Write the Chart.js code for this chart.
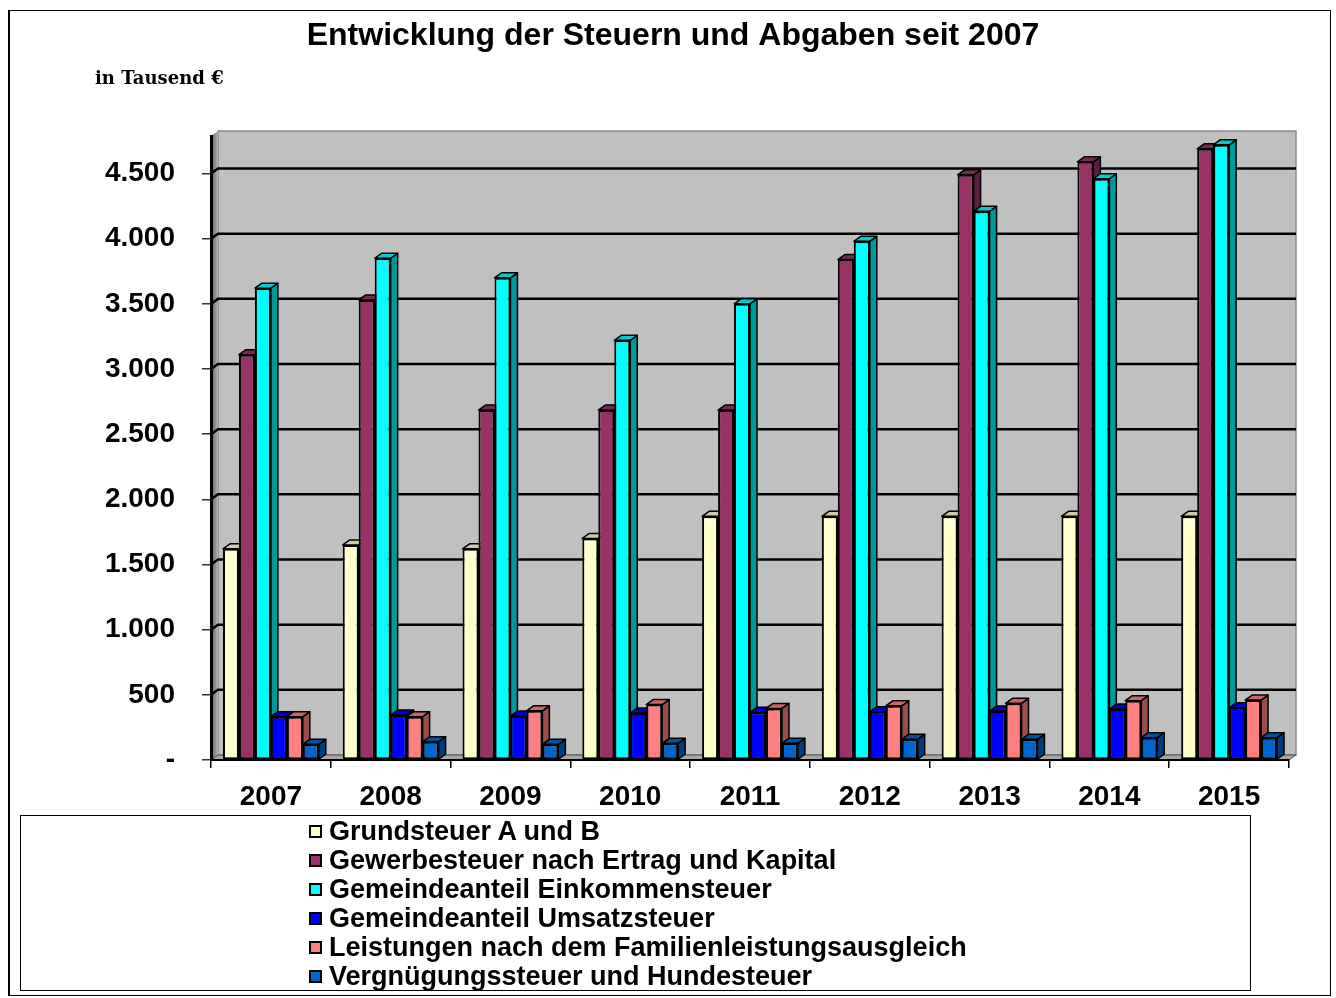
<!DOCTYPE html>
<html lang="de">
<head>
<meta charset="utf-8">
<title>Entwicklung der Steuern und Abgaben seit 2007</title>
<script src="https://cdn.jsdelivr.net/npm/chart.js@4.4.1/dist/chart.umd.min.js"></script>
<style>
  body { margin: 0; background: #fff; }
  #wrap { position: relative; width: 1336px; height: 998px; overflow: hidden; }
  #frame { position: absolute; left: 8px; top: 10px; width: 1320px; height: 984px;
           border: 1px solid #000; border-left-width: 2px; }
  #chart { position: absolute; left: 0; top: 0; }
  #unit { position: absolute; left: 95px; top: 67px; font: bold 18px "DejaVu Serif", serif; line-height: 22px; }
  #legend { position: absolute; left: 20px; top: 815px; width: 1229px; height: 174px; border: 1px solid #000; }
  #legend ul { list-style: none; margin: 0; padding: 0; position: absolute; left: 288px; top: 1px; }
  #legend li { display: flex; align-items: center; height: 29px;
               font: bold 27px "Liberation Sans", Arial, sans-serif; white-space: nowrap; }
  #legend .box { width: 13px; height: 13px; box-sizing: border-box; border: 2px solid #000; margin-right: 7px; }
</style>
</head>
<body>
<div id="wrap">
  <div id="frame"></div>
  <canvas id="chart" width="1336" height="998"></canvas>
  <div id="unit">in Tausend €</div>
  <div id="legend"><ul id="legendList"></ul></div>
</div>
<script>
const years = ['2007', '2008', '2009', '2010', '2011', '2012', '2013', '2014', '2015'];

const grundsteuer      = [1620, 1650, 1620, 1700, 1870, 1870, 1870, 1870, 1870];
const gewerbesteuer    = [3110, 3530, 2685, 2685, 2685, 3840, 4490, 4590, 4690];
const einkommensteuer  = [3620, 3850, 3700, 3220, 3500, 3980, 4210, 4460, 4720];
const umsatzsteuer     = [332, 345, 337, 360, 366, 370, 376, 391, 401];
const familienleistung = [332, 332, 377, 425, 396, 416, 435, 455, 460];
const vergnuegung      = [120, 140, 120, 128, 128, 159, 159, 171, 171];

const seriesNames = [
  'Grundsteuer A und B',
  'Gewerbesteuer nach Ertrag und Kapital',
  'Gemeindeanteil Einkommensteuer',
  'Gemeindeanteil Umsatzsteuer',
  'Leistungen nach dem Familienleistungsausgleich',
  'Vergnügungssteuer und Hundesteuer'
];
const seriesValues = [grundsteuer, gewerbesteuer, einkommensteuer, umsatzsteuer, familienleistung, vergnuegung];
const seriesColors = ['#FFFFCC', '#993366', '#00FFFF', '#0000FF', '#FF8080', '#0066CC'];

const yTicks = [0, 500, 1000, 1500, 2000, 2500, 3000, 3500, 4000, 4500];

// depth of the fake 3D look
const DX = 7, DY = 5;

function shade(hex, f) {
  const n = parseInt(hex.slice(1), 16);
  const r = Math.round(((n >> 16) & 255) * f);
  const g = Math.round(((n >> 8) & 255) * f);
  const b = Math.round((n & 255) * f);
  return `rgb(${r}, ${g}, ${b})`;
}

function poly(ctx, pts, fill, stroke, lw) {
  ctx.beginPath();
  ctx.moveTo(pts[0][0], pts[0][1]);
  for (let i = 1; i < pts.length; i++) ctx.lineTo(pts[i][0], pts[i][1]);
  ctx.closePath();
  if (fill) { ctx.fillStyle = fill; ctx.fill(); }
  if (stroke) { ctx.strokeStyle = stroke; ctx.lineWidth = lw || 1; ctx.stroke(); }
}

const depthPlugin = {
  id: 'depth3d',
  beforeDraw(chart) {
    const ctx = chart.ctx;
    const a = chart.chartArea;
    const y = chart.scales.y;
    ctx.save();
    // back wall
    ctx.fillStyle = '#c0c0c0';
    ctx.fillRect(a.left + DX, a.top - DY, a.right - a.left, a.bottom - a.top);
    ctx.strokeStyle = '#8a8a8a';
    ctx.lineWidth = 1.5;
    ctx.strokeRect(a.left + DX, a.top - DY, a.right - a.left, a.bottom - a.top);
    // left wall
    const g = ctx.createLinearGradient(a.left, 0, a.left + DX, 0);
    g.addColorStop(0, '#5a5a5a');
    g.addColorStop(1, '#b4b4b4');
    poly(ctx, [[a.left, a.bottom], [a.left + DX, a.bottom - DY], [a.left + DX, a.top - DY], [a.left, a.top]], g);
    // floor
    poly(ctx, [[a.left, a.bottom], [a.right, a.bottom], [a.right + DX, a.bottom - DY], [a.left + DX, a.bottom - DY]],
      '#a6a6a6', '#505050', 1);
    // grid lines on the walls
    ctx.strokeStyle = '#000';
    ctx.lineWidth = 2.5;
    yTicks.forEach(v => {
      if (v === 0) return;
      const py = y.getPixelForValue(v);
      ctx.beginPath();
      ctx.moveTo(a.left, py);
      ctx.lineTo(a.left + DX, py - DY);
      ctx.lineTo(a.right + DX, py - DY);
      ctx.stroke();
    });
    ctx.restore();
  },
  beforeDatasetsDraw(chart) {
    const ctx = chart.ctx;
    const metas = chart.getSortedVisibleDatasetMetas().slice().sort((m1, m2) => m1.index - m2.index);
    ctx.save();
    ctx.lineJoin = 'round';
    for (let i = 0; i < years.length; i++) {
      metas.forEach(meta => {
        const bar = meta.data[i];
        if (!bar) return;
        const p = bar.getProps(['x', 'y', 'base', 'width'], true);
        const l = p.x - p.width / 2, r = p.x + p.width / 2;
        const c = seriesColors[meta.index];
        // side face
        poly(ctx, [[r, p.y], [r + DX, p.y - DY], [r + DX, p.base - DY], [r, p.base]], shade(c, 0.6), '#000', 1.5);
        // top face
        poly(ctx, [[l, p.y], [l + DX, p.y - DY], [r + DX, p.y - DY], [r, p.y]], shade(c, 0.8), '#000', 1.5);
      });
    }
    ctx.restore();
  }
};

function formatDE(v) {
  if (v === 0) return '-';
  return String(v).replace(/\B(?=(\d{3})+(?!\d))/g, '.');
}

Chart.defaults.font.family = '"Liberation Sans", Arial, sans-serif';
Chart.defaults.color = '#000';

const datasets = seriesNames.map((name, i) => ({
  label: name,
  data: seriesValues[i],
  backgroundColor: seriesColors[i],
  borderColor: '#000',
  borderWidth: 2,
  borderSkipped: false,
  barPercentage: 1.0,
  categoryPercentage: 0.8
}));

new Chart(document.getElementById('chart'), {
  type: 'bar',
  data: { labels: years, datasets: datasets },
  options: {
    responsive: false,
    animation: false,
    // left padding only moves the title centre; the y axis width makes up for it
    layout: { padding: { left: 57, right: 47, top: 0, bottom: 0 } },
    plugins: {
      legend: { display: false },
      tooltip: { enabled: false },
      title: {
        display: true,
        text: 'Entwicklung der Steuern und Abgaben seit 2007',
        color: '#000',
        font: { size: 32, weight: 'bold' },
        padding: { top: 17, bottom: 80.6 }
      }
    },
    scales: {
      x: {
        afterFit(s) { s.height = 238; },
        grid: { display: true, drawOnChartArea: false, drawTicks: true, tickLength: 8, offset: true, color: '#000', lineWidth: 1.5 },
        border: { display: true, color: '#000', width: 2 },
        ticks: { font: { size: 28, weight: 'bold' }, color: '#000', padding: 12, maxRotation: 0 }
      },
      y: {
        min: 0,
        max: 4788,
        afterFit(s) { s.width = 154; },
        afterBuildTicks(s) { s.ticks = yTicks.map(v => ({ value: v })); },
        grid: { drawOnChartArea: false, drawTicks: true, tickLength: 9, color: '#333', lineWidth: 1.5 },
        border: { display: true, color: '#000', width: 3 },
        ticks: { font: { size: 28, weight: 'bold' }, color: '#000', padding: 27, callback: v => formatDE(v) }
      }
    }
  },
  plugins: [depthPlugin]
});

// legend below the chart, built from the series arrays
const list = document.getElementById('legendList');
seriesNames.forEach((name, i) => {
  const li = document.createElement('li');
  const box = document.createElement('span');
  box.className = 'box';
  box.style.background = seriesColors[i];
  li.appendChild(box);
  li.appendChild(document.createTextNode(name));
  list.appendChild(li);
});
</script>
</body>
</html>
